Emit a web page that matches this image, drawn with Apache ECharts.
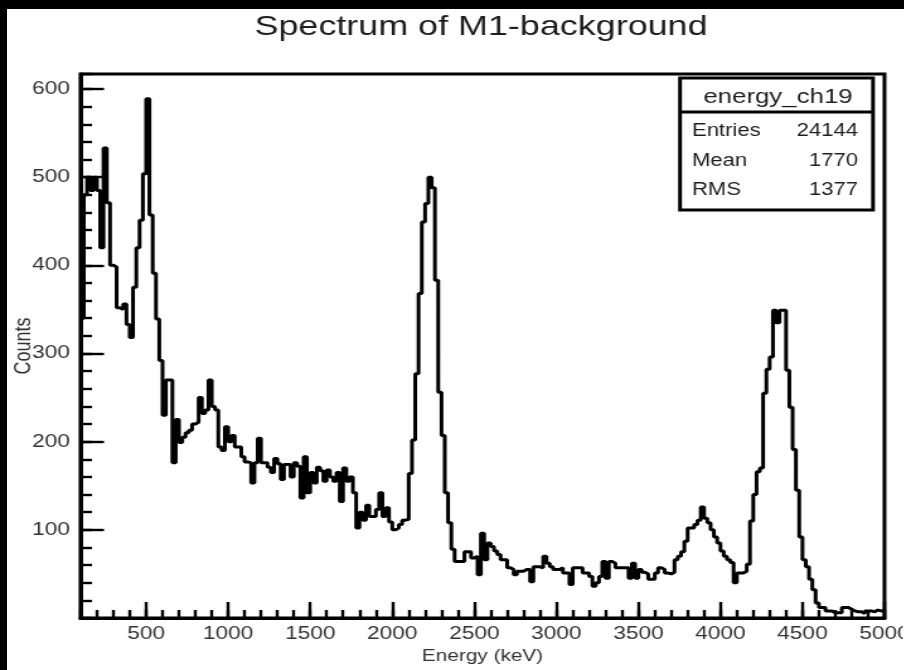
<!DOCTYPE html>
<html>
<head>
<meta charset="utf-8">
<script src="https://cdn.jsdelivr.net/npm/echarts@6/dist/echarts.min.js"></script>
<style>
  html, body { margin: 0; padding: 0; background: #fff; overflow: hidden; }
  #wrap { position: relative; width: 904px; height: 670px; overflow: hidden; background: #fff; }
  #chart { position: absolute; left: 0; top: 0; height: 670px; transform-origin: 0 0; }
  .band { position: absolute; background: #000; }
</style>
</head>
<body>
<div id="wrap">
  <div id="chart"></div>
  <div class="band" style="left:0;top:0;width:904px;height:9px"></div>
  <div class="band" style="left:0;top:0;width:7px;height:670px"></div>
</div>
<script>
// energy_ch19 histogram: 20 keV bins starting at 100 keV
const binStart = 100;
const binWidth = 20;

// counts per bin, split by energy range
const counts100to1060 = [
  340, 480, 500, 485, 500, 485, 420, 533, 471, 400,
  398, 352, 350, 356, 333, 318, 375, 420, 451, 504,
  589, 457, 391, 339, 292, 230, 270, 270, 176, 225,
  199, 205, 210, 213, 220, 222, 250, 232, 236, 270,
  240, 236, 194, 190, 217, 200, 207, 194, 194
];
const counts1080to2040 = [
  183, 177, 176, 153, 176, 204, 176, 176, 171, 165,
  181, 175, 157, 174, 174, 160, 176, 172, 136, 183,
  142, 165, 153, 171, 167, 155, 168, 160, 155, 165,
  132, 170, 155, 160, 142, 102, 120, 111, 128, 115,
  115, 123, 142, 115, 125, 109, 100, 102, 106
];
const counts2060to3020 = [
  111, 112, 164, 202, 277, 368, 449, 470, 500, 488,
  383, 256, 207, 142, 108, 78, 64, 64, 64, 75,
  75, 68, 70, 49, 96, 66, 85, 81, 76, 72,
  66, 66, 57, 55, 49, 53, 53, 55, 55, 41,
  58, 58, 57, 70, 62, 58, 55, 55, 57
];
const counts3040to4000 = [
  51, 51, 38, 57, 57, 57, 51, 51, 47, 36,
  40, 47, 64, 45, 64, 62, 57, 57, 57, 57,
  45, 62, 45, 55, 52, 50, 44, 44, 51, 57,
  55, 51, 50, 52, 66, 70, 75, 87, 102, 102,
  106, 111, 126, 113, 108, 100, 92, 85, 76
];
const counts4020to4980 = [
  70, 66, 63, 40, 51, 51, 53, 61, 110, 140,
  166, 170, 255, 282, 296, 349, 335, 349, 349, 281,
  239, 191, 145, 92, 66, 58, 44, 32, 17, 12,
  12, 8, 8, 6, 6, 6, 12, 12, 10, 8,
  7, 7, 5, 8, 8, 7, 9, 8, 8
];

// axis ranges and labelled ticks
const xRange = [100, 5000];
const yRange = [0, 617];
const xMajorTicks = [500, 1000, 1500, 2000, 2500, 3000, 3500, 4000, 4500, 5000];
const yMajorTicks = [100, 200, 300, 400, 500, 600];

// statistics box
const statsName = 'energy_ch19';
const statsLabels = ['Entries', 'Mean', 'RMS'];
const statsValues = ['24144', '1770', '1377'];

const chartTitle = 'Spectrum of M1-background';
const xName = 'Energy (keV)';
const yName = 'Counts';

// ---- layout ----
// the page is drawn narrower and stretched horizontally
const STRETCH = 1.26;
const W = 904 / STRETCH;
const sx = v => v / STRETCH;
const FONT = "'Liberation Sans', Arial, Helvetica, sans-serif";

const el = document.getElementById('chart');
el.style.width = W + 'px';
el.style.transform = 'scaleX(' + STRETCH + ')';

const counts = [].concat(counts100to1060, counts1080to2040, counts2060to3020,
                         counts3040to4000, counts4020to4980);
const histData = counts.map((c, i) => [binStart + i * binWidth, c]);
histData.push([binStart + counts.length * binWidth, counts[counts.length - 1]]);

const gridLeft = sx(80.5);
const gridRight = sx(884.5);
const gridTop = 74;
const gridBottom = 618;

const tickStyle = { color: '#000', width: 2.4 };
const plainNumber = v => String(v);

const statsBox = { x1: sx(680), x2: sx(873), y1: 78, y2: 210, sep: 112 };
const statsRowY = [131.5, 161, 190];

const graphic = [
  {
    type: 'text', x: sx(481), y: 27, z: 20,
    style: {
      text: chartTitle, fill: '#1e1e1e', font: '28.5px ' + FONT,
      align: 'center', verticalAlign: 'middle',
      textAlign: 'center', textVerticalAlign: 'middle'
    }
  },
  {
    type: 'rect', z: 20,
    shape: { x: statsBox.x1, y: statsBox.y1, width: statsBox.x2 - statsBox.x1, height: statsBox.y2 - statsBox.y1 },
    style: { fill: '#fff', stroke: '#000', lineWidth: 3 }
  },
  {
    type: 'line', z: 21,
    shape: { x1: statsBox.x1, y1: statsBox.sep, x2: statsBox.x2, y2: statsBox.sep },
    style: { stroke: '#000', lineWidth: 3 }
  },
  {
    type: 'text', x: sx(778), y: 97, z: 22,
    style: {
      text: statsName, fill: '#1e1e1e', font: '20.5px ' + FONT,
      align: 'center', verticalAlign: 'middle',
      textAlign: 'center', textVerticalAlign: 'middle'
    }
  }
];
statsLabels.forEach((lab, i) => {
  graphic.push({
    type: 'text', x: sx(692), y: statsRowY[i], z: 22,
    style: {
      text: lab, fill: '#1e1e1e', font: '17.5px ' + FONT,
      align: 'left', verticalAlign: 'middle',
      textAlign: 'left', textVerticalAlign: 'middle'
    }
  });
  graphic.push({
    type: 'text', x: sx(858), y: statsRowY[i], z: 22,
    style: {
      text: statsValues[i], fill: '#1e1e1e', font: '17.5px ' + FONT,
      align: 'right', verticalAlign: 'middle',
      textAlign: 'right', textVerticalAlign: 'middle'
    }
  });
});

const chart = echarts.init(el, null, { renderer: 'canvas' });
chart.setOption({
  animation: false,
  backgroundColor: '#fff',
  grid: {
    left: gridLeft, top: gridTop,
    width: gridRight - gridLeft, height: gridBottom - gridTop,
    show: true, borderColor: '#000', borderWidth: 3, backgroundColor: '#fff',
    containLabel: false, outerBoundsMode: 'none'
  },
  xAxis: [
    {
      type: 'value', min: xRange[0], max: xRange[1], interval: 100, position: 'bottom',
      axisLine: { show: true, onZero: false, lineStyle: { color: '#000', width: 3 } },
      axisTick: { show: true, inside: true, length: 8, lineStyle: tickStyle },
      axisLabel: { show: false },
      splitLine: { show: false }
    },
    {
      type: 'value', min: xRange[0], max: xRange[1], position: 'bottom',
      axisLine: { show: false, onZero: false },
      axisTick: { show: true, inside: true, length: 16, customValues: xMajorTicks, lineStyle: tickStyle },
      axisLabel: {
        show: true, customValues: xMajorTicks, margin: 7.5, formatter: plainNumber,
        fontSize: 18, fontFamily: FONT, color: '#333'
      },
      splitLine: { show: false },
      name: xName, nameLocation: 'middle', nameGap: 30, nameMoveOverlap: false,
      nameTextStyle: { fontSize: 16.5, fontFamily: FONT, color: '#333' }
    }
  ],
  yAxis: [
    {
      type: 'value', min: yRange[0], max: yRange[1], interval: 20, position: 'left',
      axisLine: { show: true, onZero: false, lineStyle: { color: '#000', width: 3 } },
      axisTick: { show: true, inside: true, length: sx(11.5), lineStyle: tickStyle },
      axisLabel: { show: false },
      splitLine: { show: false }
    },
    {
      type: 'value', min: yRange[0], max: yRange[1], position: 'left',
      axisLine: { show: false, onZero: false },
      axisTick: { show: true, inside: true, length: sx(23.5), customValues: yMajorTicks, lineStyle: tickStyle },
      axisLabel: {
        show: true, customValues: yMajorTicks, margin: sx(10.5), formatter: plainNumber,
        fontSize: 18, fontFamily: FONT, color: '#333'
      },
      splitLine: { show: false },
      name: yName, nameLocation: 'middle', nameGap: 36, nameMoveOverlap: false,
      nameTextStyle: { fontSize: 18, fontFamily: FONT, color: '#333' }
    }
  ],
  series: [
    {
      type: 'line', step: 'end', xAxisIndex: 0, yAxisIndex: 0,
      data: histData, showSymbol: false, symbol: 'none', clip: true,
      lineStyle: { color: '#000', width: 3 },
      z: 5
    }
  ],
  graphic: graphic
});
</script>
</body>
</html>
